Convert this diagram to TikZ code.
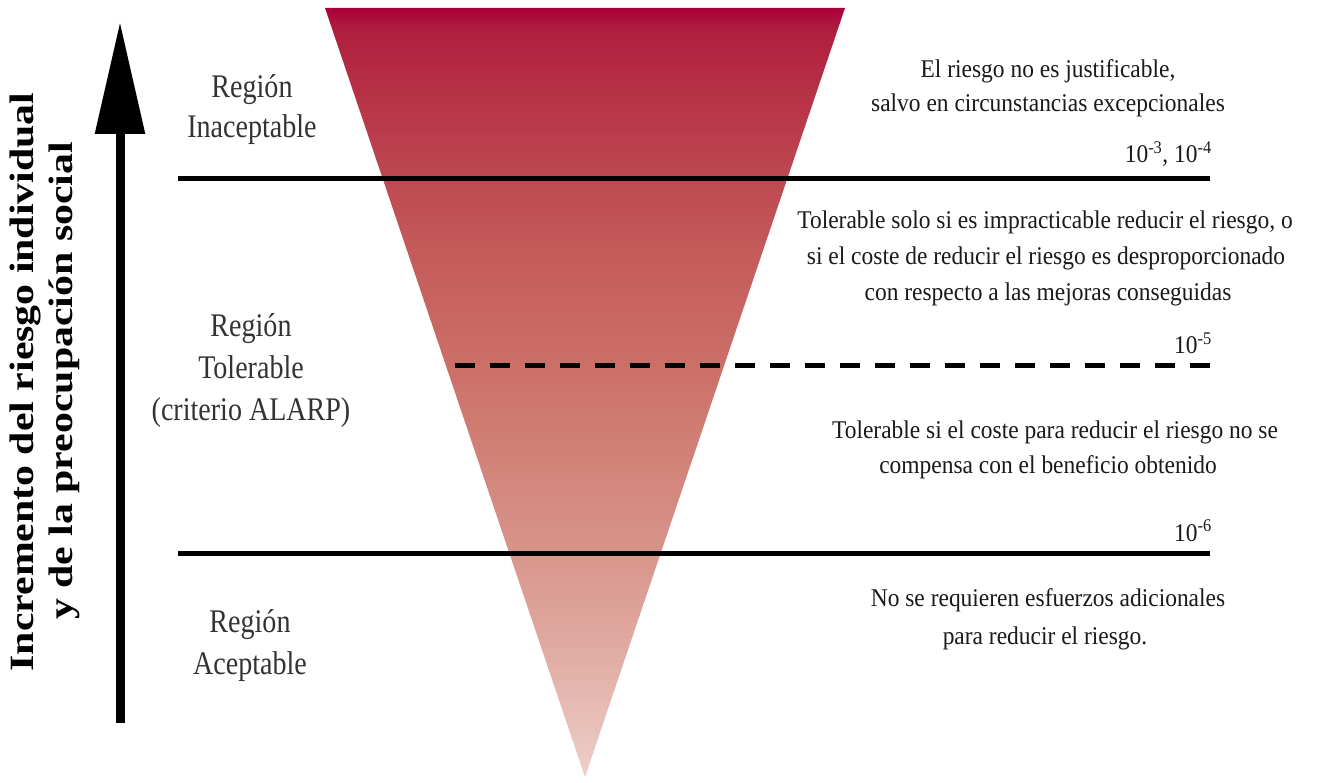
\documentclass[tikz,border=0pt]{standalone}
\usepackage{fontspec}
\setmainfont{Liberation Serif}
\newfontfamily\labfont[FakeStretch=0.85]{Liberation Serif}
\newfontfamily\rtfont[FakeStretch=0.92]{Liberation Serif}
\newfontfamily\axfont[FakeStretch=1.23]{Liberation Serif Bold}
\usetikzlibrary{arrows.meta}
\definecolor{s0}{HTML}{A8003A}
\definecolor{s1}{HTML}{B01E3E}
\definecolor{s2}{HTML}{B73446}
\definecolor{s3}{HTML}{BD4650}
\definecolor{s4}{HTML}{C45A5A}
\definecolor{s5}{HTML}{CC7068}
\definecolor{s6}{HTML}{D8948A}
\definecolor{s7}{HTML}{E0ABA2}
\definecolor{s8}{HTML}{ECCFC8}
\definecolor{labgray}{HTML}{333333}
\definecolor{rtblack}{HTML}{1A1A1A}
\pgfdeclareverticalshading{riskshade}{100bp}{color(0bp)=(s8); color(25bp)=(s8); color(33.3bp)=(s7); color(39.8bp)=(s6); color(51.5bp)=(s5); color(59.3bp)=(s4); color(64.5bp)=(s3); color(69bp)=(s2); color(73.6bp)=(s1); color(75bp)=(s0); color(100bp)=(s0)}
\tikzset{
  lab/.style={font=\labfont\fontsize{33}{38}\selectfont, text=labgray, anchor=base, inner sep=0pt},
  rt/.style={font=\rtfont\fontsize{25.5}{30}\selectfont, text=rtblack, anchor=base, inner sep=0pt},
  rtval/.style={rt, anchor=base east},
  axlab/.style={font=\axfont\fontsize{34}{40}\selectfont, anchor=base, rotate=90, inner sep=0pt},
  rline/.style={line width=5pt, black},
  rdash/.style={line width=5pt, black, dash pattern=on 20pt off 15pt},
  axarrow/.style={line width=9pt, black, -{Triangle[length=112pt, width=48pt]}}
}
\begin{document}
\begin{tikzpicture}[x=1pt, y=-1pt]
\useasboundingbox (0,0) rectangle (1317,783);
\fill[white] (0,0) rectangle (1317,783);
% inverted triangle
\coordinate (tl) at (325,8);
\coordinate (tr) at (845,8);
\coordinate (ap) at (585,777);
\shade[shading=riskshade] (tl) -- (tr) -- (ap) -- cycle;
% region boundaries
\coordinate (l1a) at (178,179);
\coordinate (l1b) at (1210,179);
\coordinate (l2a) at (455,366);
\coordinate (l2b) at (1210,366);
\coordinate (l3a) at (178,553);
\coordinate (l3b) at (1210,553);
\draw[rline] (l1a) -- (l1b);
\draw[rdash] (l2a) -- (l2b);
\draw[rline] (l3a) -- (l3b);
% axis arrow
\coordinate (abot) at (120,723);
\coordinate (atop) at (120,22);
\draw[axarrow] (abot) -- (atop);
% axis labels
\node[axlab] (ax1) at (33,382) {Incremento del riesgo individual};
\node[axlab] (ax2) at (72,381) {y de la preocupación social};
% region labels
\node[lab] (r1a) at (252,98) {Región};
\node[lab] (r1b) at (252,138) {Inaceptable};
\node[lab] (r2a) at (251,337) {Región};
\node[lab] (r2b) at (251,378) {Tolerable};
\node[lab] (r2c) at (251,420) {(criterio ALARP)};
\node[lab] (r3a) at (250,632) {Región};
\node[lab] (r3b) at (250,674) {Aceptable};
% descriptions
\node[rt] (t1a) at (1048,78) {El riesgo no es justificable,};
\node[rt] (t1b) at (1048,112) {salvo en circunstancias excepcionales};
\node[rtval] (v1) at (1212,163) {10\textsuperscript{-3}, 10\textsuperscript{-4}};
\node[rt] (t2a) at (1045,229) {Tolerable solo si es impracticable reducir el riesgo, o};
\node[rt] (t2b) at (1046,265) {si el coste de reducir el riesgo es desproporcionado};
\node[rt] (t2c) at (1048,301) {con respecto a las mejoras conseguidas};
\node[rtval] (v2) at (1212,354) {10\textsuperscript{-5}};
\node[rt] (t3a) at (1055,438) {Tolerable si el coste para reducir el riesgo no se};
\node[rt] (t3b) at (1048,473) {compensa con el beneficio obtenido};
\node[rtval] (v3) at (1212,541) {10\textsuperscript{-6}};
\node[rt] (t4a) at (1048,606) {No se requieren esfuerzos adicionales};
\node[rt] (t4b) at (1045,644) {para reducir el riesgo.};
\end{tikzpicture}
\end{document}
